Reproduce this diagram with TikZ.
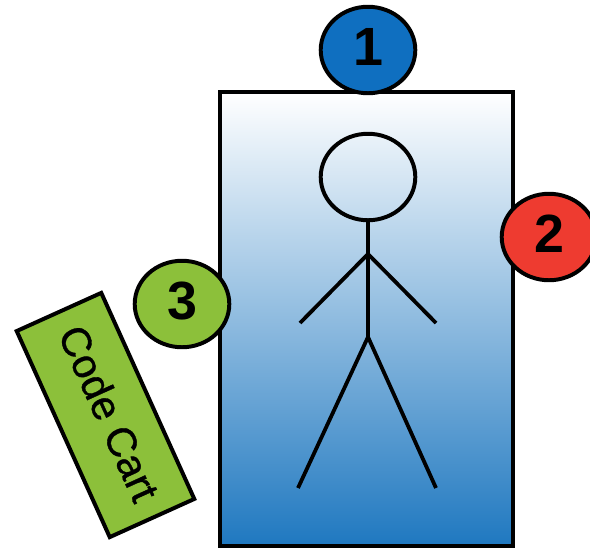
\documentclass[tikz,border=0pt]{standalone}
\usepackage{fontspec}
\setmainfont{Liberation Sans}
\usetikzlibrary{positioning,shapes.geometric}
\definecolor{bedblue}{HTML}{1F78C0}
\definecolor{badgeblue}{HTML}{0F6FC0}
\definecolor{badgered}{HTML}{EE3B30}
\definecolor{cartgreen}{HTML}{8CC03A}
\tikzset{
    badge/.style={ellipse, draw=black, line width=2.5pt, minimum width=2.1cm, minimum height=1.92cm, inner sep=0pt, text depth=4pt, font=\fontsize{34}{34}\selectfont\bfseries},
    limb/.style={draw=black, line width=2.4pt}
}
\begin{document}
\begin{tikzpicture}[x=0.0222cm,y=-0.0222cm]
    \useasboundingbox (0,0) rectangle (590,548);

    % Bed with the patient on it
    \draw[black, line width=2.5pt, top color=white, middle color=bedblue!50!white, bottom color=bedblue] (220,92) rectangle (513,546);

    % Stick figure
    \node[ellipse, draw=black, line width=2.5pt, minimum width=2.1cm, minimum height=1.92cm, inner sep=0pt] (head) at (368,177) {};
    \coordinate (neck) at (368,254);
    \coordinate (hip) at (368,337);
    \coordinate (handL) at (300,323);
    \coordinate (handR) at (436,323);
    \coordinate (footL) at (298,488);
    \coordinate (footR) at (436,488);
    \draw[limb] (head.south) -- (hip);
    \draw[limb] (handL) -- (neck) -- (handR);
    \draw[limb] (footL) -- (hip) -- (footR);

    % Numbered positions
    \node[badge, fill=badgeblue] (one) at (368,50) {1};
    \node[badge, fill=badgered] (two) at (549,237) {2};
    \node[badge, fill=cartgreen] (three) at (182,304) {3};

    % Code cart
    \node[draw=black, line width=2.5pt, fill=cartgreen, minimum width=5.02cm, minimum height=2.06cm, inner sep=0pt, rotate=-65.7, text depth=5.6pt, font=\fontsize{26}{26}\selectfont\addfontfeature{FakeBold=0.9}] (cart) at (105.5,415) {Code Cart};
\end{tikzpicture}
\end{document}
